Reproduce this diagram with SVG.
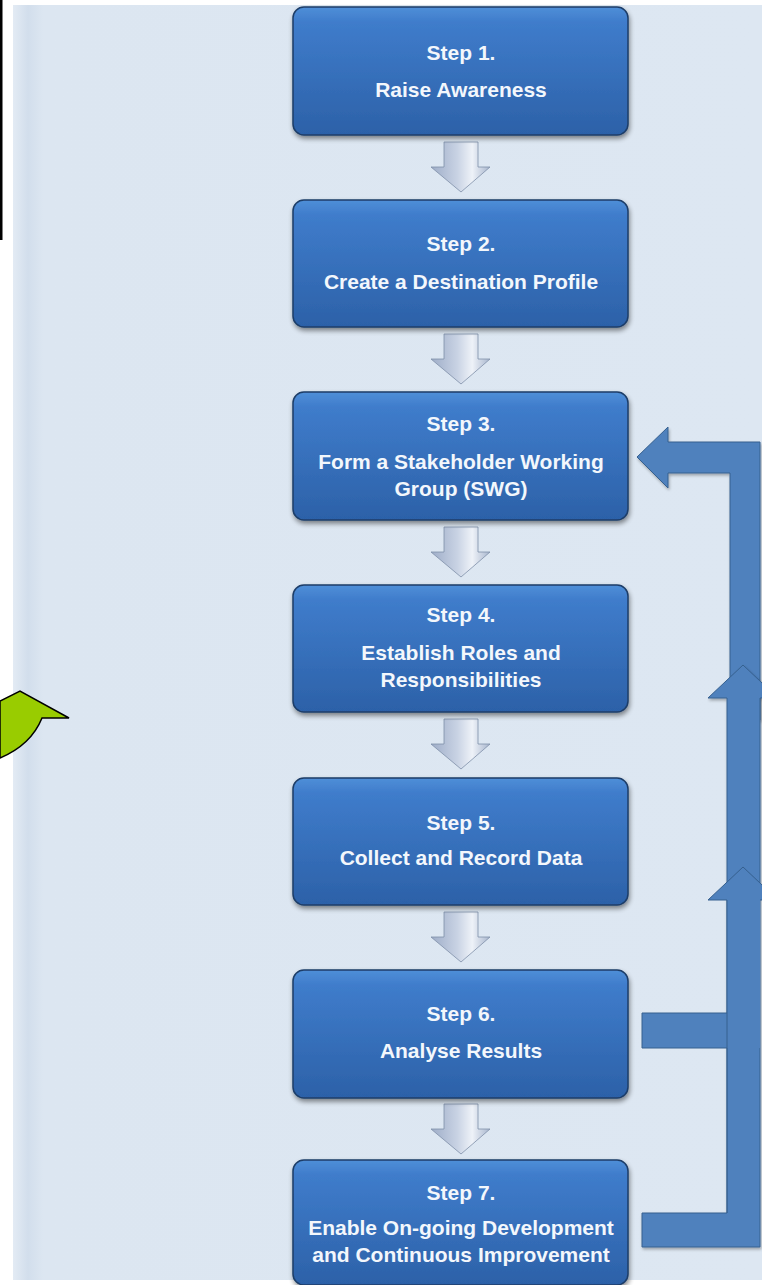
<svg xmlns="http://www.w3.org/2000/svg" width="762" height="1285" viewBox="0 0 762 1285">
<defs>
<style>
.box{fill:url(#boxg);stroke:#1e3d68;stroke-width:1.5;filter:url(#sh)}
.t{font-family:"Liberation Sans",Arial,sans-serif;font-weight:bold;font-size:21px;fill:#f3f7fc;text-anchor:middle}
.dn{fill:url(#dng);stroke:#7f8fa8;stroke-width:0.8}
.big{fill:#4f81bd;stroke:#36608f;stroke-width:1;filter:url(#sh2)}
.bigf{fill:#4f81bd;stroke:none}
.edge{fill:none;stroke:#36608f;stroke-width:1}
</style>
<linearGradient id="boxg" x1="0" y1="0" x2="0" y2="1">
<stop offset="0" stop-color="#4f8fd8"/>
<stop offset="0.12" stop-color="#3f7ccb"/>
<stop offset="1" stop-color="#2c61a8"/>
</linearGradient>
<linearGradient id="dng" x1="0" y1="0" x2="1" y2="0">
<stop offset="0" stop-color="#9eadc8"/>
<stop offset="0.45" stop-color="#c9d3e4"/>
<stop offset="0.7" stop-color="#eef2f8"/>
<stop offset="1" stop-color="#a7b5cd"/>
</linearGradient>
<linearGradient id="panelg" x1="0" y1="0" x2="1" y2="0">
<stop offset="0" stop-color="#e3ebf4"/>
<stop offset="0.02" stop-color="#d2deec"/>
<stop offset="0.04" stop-color="#dce6f1"/>
<stop offset="1" stop-color="#dde7f2"/>
</linearGradient>
<filter id="sh" x="-10%" y="-10%" width="120%" height="130%">
<feGaussianBlur in="SourceAlpha" stdDeviation="2.5"/>
<feOffset dx="1" dy="3" result="b"/>
<feComponentTransfer><feFuncA type="linear" slope="0.45"/></feComponentTransfer>
<feMerge><feMergeNode/><feMergeNode in="SourceGraphic"/></feMerge>
</filter>
<filter id="sh2" x="-20%" y="-10%" width="140%" height="120%">
<feGaussianBlur in="SourceAlpha" stdDeviation="1.5"/>
<feOffset dx="1" dy="2" result="b"/>
<feComponentTransfer><feFuncA type="linear" slope="0.3"/></feComponentTransfer>
<feMerge><feMergeNode/><feMergeNode in="SourceGraphic"/></feMerge>
</filter>
<path id="dnarrow" d="M444 0 H478 V25 H490 L461 50 L431 25 H444 Z"/>
</defs>

<rect x="0" y="0" width="762" height="1285" fill="#ffffff"/>
<rect x="13" y="5" width="749" height="1275" fill="url(#panelg)"/>
<rect x="0" y="0" width="2.5" height="240" fill="#000000"/>
<path id="green-shape" d="M0 701 L20 691 L69 718 L42 718 Q31 745 0 758 Z" fill="#99cc00" stroke="#000000" stroke-width="1.5" stroke-linejoin="miter"/>

<g id="connectors">
<use href="#dnarrow" class="dn" transform="translate(0,142)"/>
<use href="#dnarrow" class="dn" transform="translate(0,334)"/>
<use href="#dnarrow" class="dn" transform="translate(0,527)"/>
<use href="#dnarrow" class="dn" transform="translate(0,719)"/>
<use href="#dnarrow" class="dn" transform="translate(0,912)"/>
<use href="#dnarrow" class="dn" transform="translate(0,1104)"/>
<path class="big" d="M637 457 L668 427 V442 H760 V720 H730 V473 H668 V488 Z"/>
<path class="big" d="M743 665 L778 698 H760 V1247 H642 V1213 H727 V698 H708 Z"/>
<path class="bigf" d="M743 867 L778 900 H760 V1048 H642 V1013 H727 V900 H708 Z"/>
<path class="edge" d="M727 900 H708 L743 867 L778 900 H760"/>
<path class="edge" d="M727 1013 H642 V1048 H727"/>
<path class="edge" d="M727 900 V1213"/>
</g>

<g id="step1">
<rect class="box" x="293" y="7" width="335" height="128" rx="11"/>
<text class="t" x="461" y="60">Step 1.</text>
<text class="t" x="461" y="97">Raise Awareness</text>
</g>
<g id="step2">
<rect class="box" x="293" y="200" width="335" height="127" rx="11"/>
<text class="t" x="461" y="251">Step 2.</text>
<text class="t" x="461" y="289">Create a Destination Profile</text>
</g>
<g id="step3">
<rect class="box" x="293" y="392" width="335" height="128" rx="11"/>
<text class="t" x="461" y="431">Step 3.</text>
<text class="t" x="461" y="469">Form a Stakeholder Working</text>
<text class="t" x="461" y="496">Group (SWG)</text>
</g>
<g id="step4">
<rect class="box" x="293" y="585" width="335" height="127" rx="11"/>
<text class="t" x="461" y="622">Step 4.</text>
<text class="t" x="461" y="660">Establish Roles and</text>
<text class="t" x="461" y="687">Responsibilities</text>
</g>
<g id="step5">
<rect class="box" x="293" y="778" width="335" height="127" rx="11"/>
<text class="t" x="461" y="830">Step 5.</text>
<text class="t" x="461" y="865">Collect and Record Data</text>
</g>
<g id="step6">
<rect class="box" x="293" y="970" width="335" height="128" rx="11"/>
<text class="t" x="461" y="1021">Step 6.</text>
<text class="t" x="461" y="1058">Analyse Results</text>
</g>
<g id="step7">
<rect class="box" x="293" y="1160" width="335" height="125" rx="11"/>
<text class="t" x="461" y="1200">Step 7.</text>
<text class="t" x="461" y="1235">Enable On-going Development</text>
<text class="t" x="461" y="1262">and Continuous Improvement</text>
</g>
</svg>
